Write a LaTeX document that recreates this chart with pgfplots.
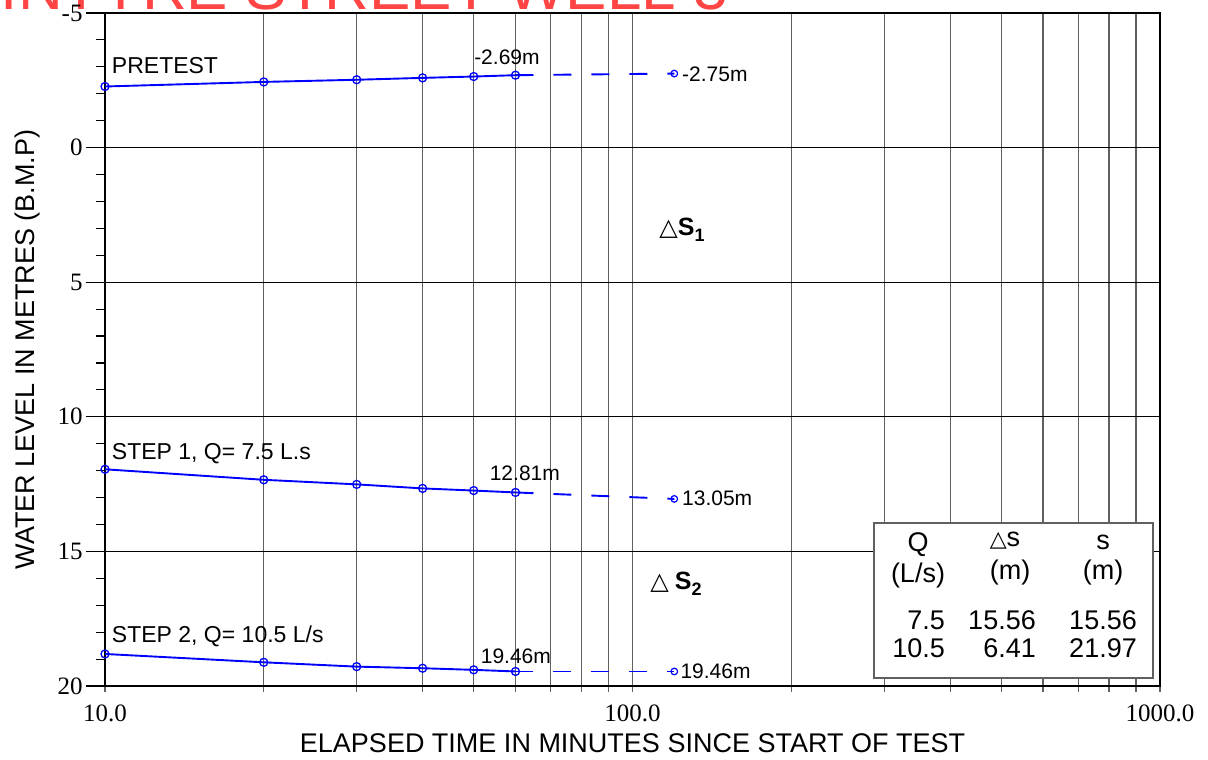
\documentclass[border=0pt]{standalone}
\usepackage{pgfplots}
\pgfplotsset{compat=1.18}
\usepackage{fontspec}
\setmainfont{Liberation Serif}
\newfontfamily\arial{Liberation Sans}
\newfontfamily\sym{DejaVu Sans}
\definecolor{titlered}{RGB}{255,68,68}
\definecolor{gridgray}{RGB}{96,96,96}
\begin{document}
\begin{tikzpicture}
\path[use as bounding box] (-105pt,-74pt) rectangle (1103pt,686pt);
% title (mostly cut off at the top)
\node[anchor=base east, inner sep=0pt, text=titlered, font=\arial\fontsize{62}{62}\selectfont] at (623pt,676pt) {McINTYRE STREET WELL 3};
% small x ticks and x tick labels below the axis
\begin{axis}[at={(0pt,0pt)}, anchor=south west, scale only axis, width=1055pt, height=673pt,
  xmode=log, xmin=10, xmax=1000, ymin=-5, ymax=20,
  hide y axis, axis x line*=bottom, axis line style={draw=none},
  xtick={10,100,1000}, xticklabels={10.0,100.0,1000.0},
  tick label style={font=\fontsize{25}{25}\selectfont},
  xticklabel style={yshift=-9pt},
  tick align=outside, major tick length=6pt, minor tick length=6pt,
  tick style={gridgray, line width=1.2pt}]
\end{axis}
\begin{axis}[at={(0pt,0pt)}, anchor=south west, scale only axis, width=1055pt, height=673pt,
  xmode=log, xmin=10, xmax=1000, ymin=-5, ymax=20, y dir=reverse,
  xtick={10,100,1000}, xticklabels={},
  ytick={-5,0,5,10,15,20}, yticklabels={-5,0,5,10,15,20},
  minor y tick num=4,
  xmajorgrids, xminorgrids, ymajorgrids,
  major x grid style={gridgray, line width=1.2pt},
  minor x grid style={gridgray, line width=1.2pt},
  major y grid style={black, line width=1.2pt},
  xmajorticks=false, xminorticks=false, ytick pos=left,
  tick align=outside, major tick length=19pt, minor tick length=9pt,
  tick style={black, line width=1.1pt},
  axis line style={black, line width=1.2pt},
  tick label style={font=\fontsize{25}{25}\selectfont},
  clip=false]
% PRETEST
\addplot[blue, line width=1.9pt, mark=o, mark size=4pt, mark options={line width=1.3pt}] table {
x y
10 -2.27
20 -2.44
30 -2.52
40 -2.59
50 -2.64
60 -2.69
};
\addplot[blue, line width=1.9pt, dash pattern=on 18pt off 20pt] table {
x y
60 -2.69
120 -2.75
};
\addplot[blue, only marks, mark=o, mark size=3.3pt, mark options={line width=1.2pt}] table {
x y
120 -2.75
};
% STEP 1
\addplot[blue, line width=1.9pt, mark=o, mark size=4pt, mark options={line width=1.3pt}] table {
x y
10 11.95
20 12.34
30 12.51
40 12.66
50 12.74
60 12.81
};
\addplot[blue, line width=1.9pt, dash pattern=on 18pt off 20pt] table {
x y
60 12.81
120 13.05
};
\addplot[blue, only marks, mark=o, mark size=3.3pt, mark options={line width=1.2pt}] table {
x y
120 13.05
};
% STEP 2
\addplot[blue, line width=1.9pt, mark=o, mark size=4pt, mark options={line width=1.3pt}] table {
x y
10 18.81
20 19.12
30 19.28
40 19.34
50 19.40
60 19.46
};
\addplot[blue, line width=1.9pt, dash pattern=on 18pt off 20pt] table {
x y
60 19.46
120 19.46
};
\addplot[blue, only marks, mark=o, mark size=3.3pt, mark options={line width=1.2pt}] table {
x y
120 19.46
};
% annotations
\begin{scope}[every node/.style={inner sep=0pt}]
\node[anchor=west, font=\arial\fontsize{23}{23}\selectfont] at (axis cs:10.3,-3.05) {PRETEST};
\node[font=\arial\fontsize{21}{21}\selectfont] at (axis cs:57.8,-3.34) {-2.69m};
\node[anchor=west, font=\arial\fontsize{21}{21}\selectfont] at (axis cs:124.1,-2.72) {-2.75m};
\node[anchor=west, font=\arial\fontsize{23}{23}\selectfont] at (axis cs:10.3,11.37) {STEP 1, Q= 7.5 L.s};
\node[font=\arial\fontsize{21}{21}\selectfont] at (axis cs:62.5,12.11) {12.81m};
\node[anchor=west, font=\arial\fontsize{21}{21}\selectfont] at (axis cs:124.1,13.04) {13.05m};
\node[anchor=west, font=\arial\fontsize{23}{23}\selectfont] at (axis cs:10.3,18.17) {STEP 2, Q= 10.5 L/s};
\node[font=\arial\fontsize{21}{21}\selectfont] at (axis cs:60.1,18.91) {19.46m};
\node[anchor=west, font=\arial\fontsize{21}{21}\selectfont] at (axis cs:123.2,19.45) {19.46m};
\node at (axis cs:124.1,3.05) {{\sym\fontsize{24}{24}\selectfont △}{\arial\bfseries\fontsize{25}{25}\selectfont S\raisebox{-0.22em}{\fontsize{18}{18}\selectfont 1}}};
\node at (axis cs:120.9,16.2) {{\sym\fontsize{24}{24}\selectfont △}\hspace{6pt}{\arial\bfseries\fontsize{25}{25}\selectfont S\raisebox{-0.22em}{\fontsize{18}{18}\selectfont 2}}};
\end{scope}
\end{axis}
% axis labels
\node[font=\arial\fontsize{27}{27}\selectfont] at (527.5pt,-57pt) {ELAPSED TIME IN MINUTES SINCE START OF TEST};
\node[rotate=90, font=\arial\fontsize{27}{27}\selectfont] at (-77pt,336.5pt) {WATER LEVEL IN METRES (B.M.P)};
% table box
\draw[gridgray, line width=1.3pt, fill=white] (769pt,8pt) rectangle (1048pt,163pt);
\begin{scope}[every node/.style={inner sep=0pt, font=\arial\fontsize{27}{27}\selectfont}]
\node at (813pt,141pt) {Q};
\node at (813pt,110pt) {(L/s)};
\node at (900pt,145pt) {{\sym\fontsize{22}{22}\selectfont △}s};
\node at (905pt,113pt) {(m)};
\node at (998pt,144pt) {s};
\node at (998pt,113pt) {(m)};
\node[anchor=east] at (840pt,66pt) {7.5};
\node[anchor=east] at (840pt,38pt) {10.5};
\node[anchor=east] at (931pt,66pt) {15.56};
\node[anchor=east] at (931pt,38pt) {6.41};
\node[anchor=east] at (1032pt,66pt) {15.56};
\node[anchor=east] at (1032pt,38pt) {21.97};
\end{scope}
\end{tikzpicture}
\end{document}
